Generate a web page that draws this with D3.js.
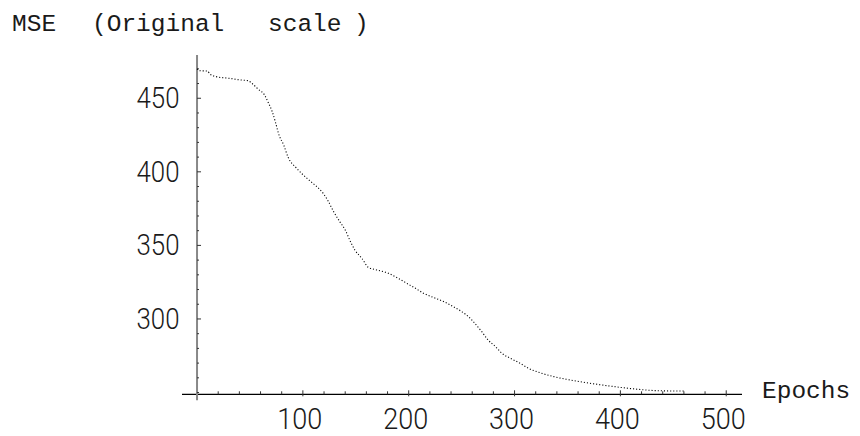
<!DOCTYPE html>
<html>
<head>
<meta charset="utf-8">
<script src="https://cdn.jsdelivr.net/npm/d3@7"></script>
<style>
    body { margin: 0; background: #fff; }
    svg { display: block; }
    .mono { font-family: "Liberation Mono", "Courier New", monospace; font-size: 24.5px; fill: #1a1a1a; }
    .ticklabel { font-family: "Roboto", "Liberation Sans", sans-serif; font-weight: 300; font-size: 29px; fill: #1a1a1a; }
</style>
</head>
<body>
<svg id="chart" width="860" height="436"></svg>
<script>
//Values
var epochs = [0, 3, 10, 12, 20, 30, 40, 48, 52, 58, 64, 67, 71, 74, 77, 82, 86, 94, 104, 113,
    118, 124, 129, 135, 140, 145, 149, 156, 162, 170, 181, 190, 198, 206, 214, 223, 233, 242,
    250, 258, 261, 269, 275, 282, 288, 296, 305, 313, 324, 337, 349, 365, 384, 406, 437, 460];
var mse = [470, 468.7, 468.5, 466.5, 464.4, 463.6, 462.5, 462, 460, 456, 452, 447.5, 441, 434,
    426, 418, 410, 402.5, 395.5, 390, 386.5, 380, 373, 366, 360.5, 352.5, 347, 341, 335,
    333.3, 331, 327.7, 324.3, 321, 317.5, 314.7, 311.8, 308.4, 305, 300.5, 298.2, 291.4,
    285.7, 281.2, 276.7, 273.3, 270, 266.5, 263.5, 260.8, 259, 257, 255, 253, 251.2, 251];

var xMajor = [100, 200, 300, 400, 500];
var xMinor = [20, 40, 60, 80, 120, 140, 160, 180, 220, 240, 260, 280, 320, 340, 360, 380,
    420, 440, 460, 480];
var yMajor = [300, 350, 400, 450];
var yMinor = [250, 260, 270, 280, 290, 310, 320, 330, 340, 360, 370, 380, 390, 410, 420,
    430, 440, 460, 470];

//where the two axes cross (Mathematica picked this by itself)
var originX = 0;
var originY = 248.8;

var svg = d3.select("#chart");

var x = d3.scaleLinear()
    .domain([-14.2, 514.9])
    .range([182, 742]);

var y = d3.scaleLinear()
    .domain([originY, 479.4])
    .range([394.3, 55]);

var data = epochs.map(function (e, i) {
    return {epoch: e, value: mse[i]};
});

//horizontal axis with its little tick marks
var xAxis = svg.append("g");
xAxis.append("line")
    .attr("x1", x.range()[0])
    .attr("x2", x.range()[1])
    .attr("y1", y(originY))
    .attr("y2", y(originY))
    .style("stroke", "#000")
    .style("stroke-width", 1.2);

xAxis.selectAll(".xminor")
    .data(xMinor)
    .enter().append("line")
    .attr("class", "xminor")
    .attr("x1", function (d) { return x(d); })
    .attr("x2", function (d) { return x(d); })
    .attr("y1", y(originY))
    .attr("y2", y(originY) - 3)
    .style("stroke", "#333")
    .style("stroke-width", 1);

xAxis.selectAll(".xmajor")
    .data(xMajor)
    .enter().append("line")
    .attr("class", "xmajor")
    .attr("x1", function (d) { return x(d); })
    .attr("x2", function (d) { return x(d); })
    .attr("y1", y(originY) + 2)
    .attr("y2", y(originY) - 4)
    .style("stroke", "#333")
    .style("stroke-width", 1);

xAxis.selectAll(".xlabel")
    .data(xMajor)
    .enter().append("text")
    .attr("class", "ticklabel")
    .attr("x", function (d) { return x(d) - 3; })
    .attr("y", y(originY) + 35)
    .attr("text-anchor", "middle")
    .attr("textLength", 45)
    .attr("lengthAdjust", "spacingAndGlyphs")
    .text(function (d) { return d; });

//vertical axis, drawn grey like in the original
var yAxis = svg.append("g");
yAxis.append("line")
    .attr("x1", x(originX))
    .attr("x2", x(originX))
    .attr("y1", y.range()[1])
    .attr("y2", y(originY) + 6)
    .style("stroke", "#888")
    .style("stroke-width", 2);

yAxis.selectAll(".yminor")
    .data(yMinor)
    .enter().append("line")
    .attr("x1", x(originX))
    .attr("x2", x(originX) + 2)
    .attr("y1", function (d) { return y(d); })
    .attr("y2", function (d) { return y(d); })
    .style("stroke", "#333")
    .style("stroke-width", 1);

yAxis.selectAll(".ymajor")
    .data(yMajor)
    .enter().append("line")
    .attr("x1", x(originX))
    .attr("x2", x(originX) + 4)
    .attr("y1", function (d) { return y(d); })
    .attr("y2", function (d) { return y(d); })
    .style("stroke", "#333")
    .style("stroke-width", 1);

yAxis.selectAll(".ylabel")
    .data(yMajor)
    .enter().append("text")
    .attr("class", "ticklabel")
    .attr("x", x(originX) - 17.5)
    .attr("y", function (d) { return y(d) + 10; })
    .attr("text-anchor", "end")
    .attr("textLength", 43)
    .attr("lengthAdjust", "spacingAndGlyphs")
    .text(function (d) { return d; });

//the dotted MSE curve
var line = d3.line()
    .x(function (d) { return x(d.epoch); })
    .y(function (d) { return y(d.value); })
    .curve(d3.curveMonotoneX);

svg.append("path")
    .datum(data)
    .attr("d", line)
    .style("fill", "none")
    .style("stroke", "#000")
    .style("stroke-width", 1.1)
    .style("stroke-dasharray", "1.1,2");

//title and axis name
var title = svg.append("text")
    .attr("class", "mono")
    .attr("y", 31);
title.append("tspan").attr("x", 12).text("MSE");
title.append("tspan").attr("x", 92).text("(Original");
title.append("tspan").attr("x", 268).text("scale");
title.append("tspan").attr("x", 354).text(")");

svg.append("text")
    .attr("class", "mono")
    .attr("x", 762)
    .attr("y", 398)
    .text("Epochs");
</script>
</body>
</html>
